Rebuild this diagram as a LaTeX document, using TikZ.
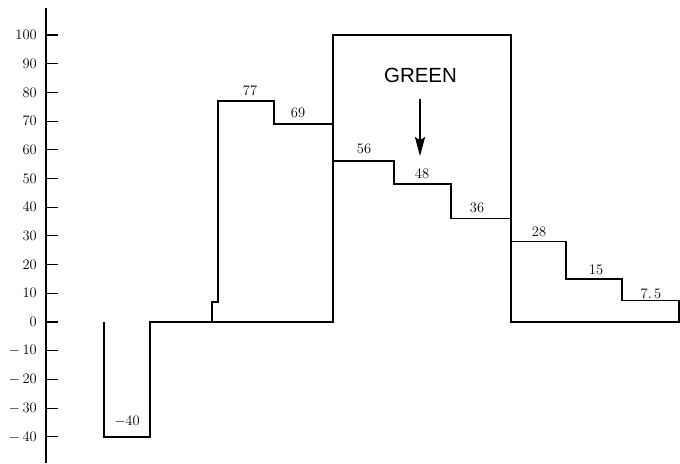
\documentclass[tikz,border=0pt]{standalone}
\usepackage{fontspec}
\newfontfamily\signfont{Liberation Sans}
\usetikzlibrary{arrows.meta}
\tikzstyle{axisline}=[line width=1.1pt]
\tikzstyle{stepline}=[line width=1.6pt, line join=miter]
\tikzstyle{steplabel}=[font=\fontsize{14.5}{16}\selectfont, inner sep=0pt]
\newcommand{\drawticks}{
  \foreach \v in {-40,-30,...,100} {
  \pgfmathtruncatemacro{\absv}{abs(\v)}
  \draw[axisline] (0,\v) -- (12,\v);
  \node[steplabel, anchor=east] (tick\absv\ifnum\v<0 m\fi) at (-9,\v) {\ifnum\v<0 $-$\,\fi\absv};
}
}

\begin{document}
\begin{tikzpicture}[x=1pt, y=2.87pt]
	\useasboundingbox (-46,-49.13) rectangle (634,112.2);
	% axis
	\draw[axisline] (0,-49.13) -- (0,109.4);
	\drawticks
	% left part
	\draw[stepline] (58,0) -- (58,-40) -- (104,-40) -- (104,0) -- (166,0) -- (166,7) -- (172,7)
		-- (172,77) -- (228,77) -- (228,69) -- (287,69);
	% green box and right part
	\draw[stepline] (104,0) -- (287,0) -- (287,100) -- (465,100) -- (465,0) -- (633,0)
		-- (633,7.5) -- (576,7.5) -- (576,15) -- (520,15) -- (520,28) -- (465,28);
	\draw[stepline] (287,56) -- (348,56) -- (348,48) -- (405,48) -- (405,36) -- (465,36);
	% values
	\node[steplabel] (lm40) at (81,-34.7) {$-$40};
	\node[steplabel] (l77) at (204,80.5) {77};
	\node[steplabel] (l69) at (252,72.8) {69};
	\node[steplabel] (l56) at (318,60.3) {56};
	\node[steplabel] (l48) at (376,51.6) {48};
	\node[steplabel] (l36) at (431,39.7) {36};
	\node[steplabel] (l28) at (493,31.4) {28};
	\node[steplabel] (l15) at (550,18.1) {15};
	\node[steplabel] (l75) at (605,10) {7.\,5};
	% green label and arrow
	\node[font=\signfont\fontsize{20.5}{22}\selectfont, inner sep=0pt] (green) at (374.5,86) {GREEN};
	\coordinate (arrowend) at (374,57.8);
	\draw[line width=1.6pt, -{Stealth[length=19pt, width=10pt, inset=3pt]}] (374,77.7) -- (arrowend);
\end{tikzpicture}
\end{document}
